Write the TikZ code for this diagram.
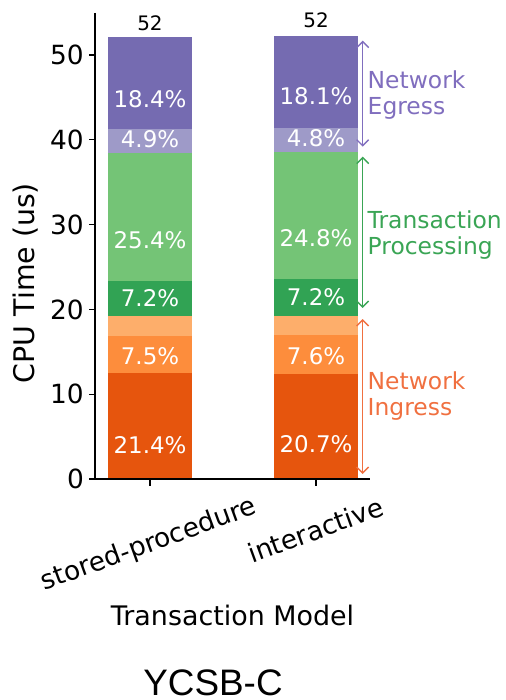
\documentclass[tikz,border=0pt]{standalone}
\usepackage{fontspec}
\setmainfont{DejaVu Sans}
\newfontfamily\titlefont{Liberation Sans}
\usetikzlibrary{arrows.meta}

% tab20c-style palette
\definecolor{ingA}{HTML}{E6550D}
\definecolor{ingB}{HTML}{FD8D3C}
\definecolor{ingC}{HTML}{FDAE6B}
\definecolor{txnA}{HTML}{31A354}
\definecolor{txnB}{HTML}{74C476}
\definecolor{egrA}{HTML}{756BB1}
\definecolor{egrB}{HTML}{9E9AC8}
\definecolor{egrText}{RGB}{128,110,190}
\definecolor{txnText}{RGB}{58,165,85}
\definecolor{ingText}{RGB}{240,112,64}

\tikzset{
  ticklab/.style={font=\fontsize{26.5}{31}\selectfont, inner sep=0pt},
  pct/.style={font=\fontsize{23}{27}\selectfont, text=white, inner sep=0pt, anchor=base},
  total/.style={font=\fontsize{20}{24}\selectfont, inner sep=0pt, anchor=base},
  grp/.style={font=\fontsize{23.5}{26}\selectfont, align=left, anchor=west, inner sep=0pt},
  span/.style={line width=1.4bp,
    {Straight Barb[length=6bp,width=12bp]}-{Straight Barb[length=6bp,width=12bp]}},
  spine/.style={line width=1.5bp},
  tickmark/.style={line width=1.3bp}
}

\begin{document}
\begin{tikzpicture}[x=1bp,y=-1bp]
\useasboundingbox (0,0) rectangle (506,700);

% ---------- stacked bars ----------
% stored-procedure
\fill[ingA] (108,479)   rectangle (192,373);
\fill[ingB] (108,373)   rectangle (192,336);
\fill[ingC] (108,336)   rectangle (192,315.7);
\fill[txnA] (108,315.7) rectangle (192,281);
\fill[txnB] (108,281)   rectangle (192,153.3);
\fill[egrB] (108,153.3) rectangle (192,129);
\fill[egrA] (108,129)   rectangle (192,37);
% interactive
\fill[ingA] (274,479)   rectangle (358,374);
\fill[ingB] (274,374)   rectangle (358,335);
\fill[ingC] (274,335)   rectangle (358,315.7);
\fill[txnA] (274,315.7) rectangle (358,279);
\fill[txnB] (274,279)   rectangle (358,151.7);
\fill[egrB] (274,151.7) rectangle (358,128);
\fill[egrA] (274,128)   rectangle (358,36);

% ---------- segment shares ----------
\node[pct] (p1a) at (150,107.2) {18.4\%};
\node[pct] (p1b) at (150,147.4) {4.9\%};
\node[pct] (p1c) at (150,248.4) {25.4\%};
\node[pct] (p1d) at (150,306.4) {7.2\%};
\node[pct] (p1e) at (150,364.4) {7.5\%};
\node[pct] (p1f) at (150,453.4) {21.4\%};
\node[pct] (p2a) at (316,104.6) {18.1\%};
\node[pct] (p2b) at (316,146.1) {4.8\%};
\node[pct] (p2c) at (316,246.4) {24.8\%};
\node[pct] (p2d) at (316,305.1) {7.2\%};
\node[pct] (p2e) at (316,364.4) {7.6\%};
\node[pct] (p2f) at (316,452.9) {20.7\%};

% ---------- totals ----------
\node[total] (t1) at (150,30.5) {52};
\node[total] (t2) at (316,28)   {52};

% ---------- axes ----------
\coordinate (origin) at (95,479);
\coordinate (ytop) at (95,13);
\coordinate (xend) at (370,479);
\draw[spine] (ytop) -- (origin) -- (xend);

\foreach \v/\yy in {0/479,10/394.2,20/309.4,30/224.6,40/139.8,50/55}{
  \coordinate (yt\v) at (95,\yy);
  \draw[tickmark] (yt\v) -- ++(-6.5,0);
  \node[ticklab, anchor=base east] (yl\v) at (84,\yy+9.7) {\v};
}

\coordinate (xt1) at (150,479);
\coordinate (xt2) at (316,479);
\draw[tickmark] (xt1) -- ++(0,6.5);
\draw[tickmark] (xt2) -- ++(0,6.5);
\node[ticklab, rotate=20] (xl1) at (149,545) {stored-procedure};
\node[ticklab, rotate=20] (xl2) at (315.5,530) {interactive};

\node[ticklab, font=\fontsize{28.5}{32}\selectfont, rotate=90] (ylab) at (26,283) {CPU Time (us)};
\node[ticklab, font=\fontsize{27}{31}\selectfont] (xlab) at (232.5,615) {Transaction Model};

% ---------- component spans ----------
\coordinate (eTop) at (362.7,40.7);
\coordinate (eBot) at (362.7,146.7);
\coordinate (tTop) at (362.7,156.7);
\coordinate (tBot) at (362.7,308);
\coordinate (iTop) at (362.7,319);
\coordinate (iBot) at (362.7,474);
\draw[span, egrText] (eTop) -- (eBot);
\draw[span, txnText] (tTop) -- (tBot);
\draw[span, ingText] (iTop) -- (iBot);

\node[grp, text=egrText] (gE) at (367.5,95)    {Network\\Egress};
\node[grp, text=txnText] (gT) at (367.5,234.6) {Transaction\\Processing};
\node[grp, text=ingText] (gI) at (367.5,395.6) {Network\\Ingress};

% ---------- title ----------
\node[inner sep=0pt, anchor=base, font=\titlefont\fontsize{37}{42}\selectfont] (title) at (213,695.5) {YCSB-C};
\end{tikzpicture}
\end{document}
